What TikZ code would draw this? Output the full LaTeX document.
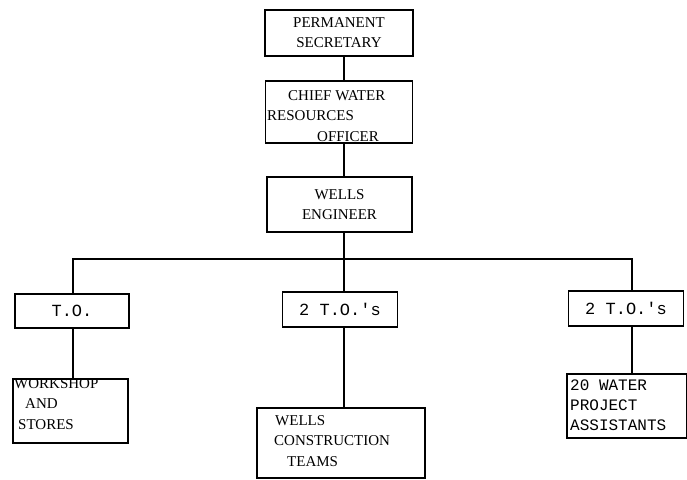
\documentclass[tikz,border=0pt]{standalone}
\usepackage{fontspec}
\setmainfont{Liberation Serif}
\newfontfamily\typew{Liberation Mono}
\begin{document}
\begin{tikzpicture}[x=1pt,y=-1pt,
  box/.style={draw,line width=1.1pt,rectangle,inner sep=2pt,font=\fontsize{15}{20}\selectfont},
  tbox/.style={box,font=\typew\fontsize{17}{20}\selectfont},
  txt/.style={font=\fontsize{15}{20.5}\selectfont,anchor=north west,align=left,inner sep=0pt},
  link/.style={line width=1.1pt}]
\useasboundingbox (0,0) rectangle (687,479);
\node[box,minimum width=148pt,minimum height=46pt,align=center] (ps) at (339,33) {PERMANENT\\SECRETARY};
\node[box,minimum width=147pt,minimum height=62pt] (cw) at (339,112) {};
\node[txt] (cwt) at (267,90)
  {\hspace*{21pt}CHIEF WATER\\RESOURCES\\\hspace*{50pt}OFFICER};
\node[box,minimum width=145pt,minimum height=55pt,align=center] (we) at (339.5,204.5) {WELLS\\ENGINEER};
\node[tbox,minimum width=114pt,minimum height=34pt] (to1) at (72,311) {T.O.};
\node[tbox,minimum width=115pt,minimum height=35pt] (to2) at (340,309.5) {2 T.O.'s};
\node[tbox,minimum width=115pt,minimum height=35pt] (to3) at (626,308.5) {2 T.O.'s};
\node[box,minimum width=115pt,minimum height=64pt] (ws) at (70.5,411) {};
\node[txt] (wst) at (14,378)
  {WORKSHOP\\\hspace*{11pt}AND\\\hspace*{4pt}STORES};
\node[box,minimum width=168pt,minimum height=70pt] (wc) at (341,443) {};
\node[txt] (wct) at (274,415)
  {\hspace*{1pt}WELLS\\CONSTRUCTION\\\hspace*{13pt}TEAMS};
\node[box,minimum width=120pt,minimum height=64pt] (wa) at (627,406) {};
\node[font=\typew\fontsize{16}{20}\selectfont,anchor=north west,align=left,inner sep=0pt] (wat) at (570,380)
  {20 WATER\\PROJECT\\ASSISTANTS};
\coordinate (spine) at (344,0);
\coordinate (rdrop) at (632,0);
\coordinate (ldrop) at (73,0);
\coordinate (bus) at (0,259);
\draw[link] (ps.south -| spine) -- (cw.north -| spine);
\draw[link] (cw.south -| spine) -- (we.north -| spine);
\draw[link] (we.south -| spine) -- (to2.north -| spine);
\draw[link] (to1.north -| ldrop) -- (bus -| ldrop) -- (bus -| rdrop) -- (to3.north -| rdrop);
\draw[link] (to1.south -| ldrop) -- (ws.north -| ldrop);
\draw[link] (to2.south -| spine) -- (wc.north -| spine);
\draw[link] (to3.south -| rdrop) -- (wa.north -| rdrop);
\end{tikzpicture}
\end{document}
